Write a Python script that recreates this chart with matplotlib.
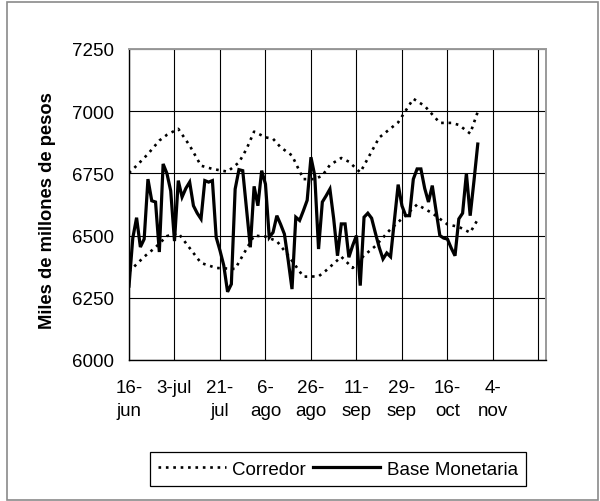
import matplotlib
matplotlib.use("Agg")
import matplotlib.pyplot as plt
from matplotlib.patches import Rectangle
import numpy as np

plt.rcParams['font.family'] = ['Liberation Sans', 'DejaVu Sans']

# Category tick labels (every 12 business days)
tick_labels = ['16-\njun', '3-jul', '21-\njul', '6-\nago', '26-\nago',
               '11-\nsep', '29-\nsep', '16-\noct', '4-\nnov', '']

# Base Monetaria (miles de millones de pesos), one value per business day
base_monetaria = [
    6297, 6490, 6572, 6454, 6486, 6727, 6640, 6635, 6434, 6788,
    6750, 6680, 6478, 6721, 6655, 6690, 6715, 6620, 6590, 6567,
    6721, 6715, 6721, 6493, 6440, 6380, 6274, 6305, 6687, 6765,
    6761, 6607, 6453, 6698, 6620, 6761, 6707, 6493, 6513, 6580,
    6545, 6506, 6400, 6285, 6574, 6561, 6600, 6642, 6815, 6741,
    6446, 6635, 6660, 6687, 6567, 6419, 6547, 6547, 6413, 6460,
    6500, 6299, 6574, 6590, 6570, 6510, 6453, 6406, 6430, 6415,
    6560, 6705, 6620, 6580, 6580, 6727, 6768, 6768, 6690, 6635,
    6701, 6600, 6500, 6490, 6486, 6450, 6419, 6567, 6590, 6750,
    6580, 6720, 6868]

# Corredor: upper bound (category index, value)
corr_sup_idx = [0, 2, 5, 8, 10, 13, 16, 19, 22, 26, 29, 31, 33, 36, 38, 40,
                43, 46, 49, 51, 53, 56, 58, 61, 66, 71, 75, 78, 82, 85, 87,
                90, 92]
corr_sup_val = [6752, 6781, 6828, 6882, 6905, 6929, 6862, 6781, 6768, 6757,
                6794, 6848, 6918, 6895, 6889, 6855, 6822, 6727, 6727, 6741,
                6784, 6812, 6797, 6754, 6894, 6955, 7050, 7021, 6953, 6953,
                6945, 6910, 6998]

# Corredor: lower bound (category index, value)
corr_inf_idx = [0, 2, 4, 7, 10, 13, 19, 23, 28, 30, 33, 36, 39, 42, 46, 50,
                52, 56, 59, 62, 65, 69, 73, 76, 80, 84, 87, 90, 92]
corr_inf_val = [6355, 6385, 6415, 6453, 6498, 6510, 6390, 6370, 6366, 6420,
                6500, 6496, 6478, 6420, 6335, 6336, 6360, 6415, 6370, 6420,
                6458, 6526, 6582, 6625, 6590, 6545, 6535, 6512, 6565]

W, H = 600, 502
fig = plt.figure(figsize=(W / 100, H / 100), dpi=100)
ax = fig.add_axes([129 / W, 1 - 361 / H, (546 - 129) / W, (361 - 50) / H])

fs = 13.5
x_bm = np.arange(len(base_monetaria))

ax.plot(corr_sup_idx, corr_sup_val, color='black', lw=1.9,
        linestyle=(0, (1, 1.8)), label='Corredor', zorder=3)
ax.plot(corr_inf_idx, corr_inf_val, color='black', lw=1.9,
        linestyle=(0, (1, 1.8)), zorder=3)
ax.plot(x_bm, base_monetaria, color='black', lw=2.3, solid_joinstyle='miter',
        label='Base Monetaria', zorder=4)

ax.set_xlim(0, 110)
ax.set_ylim(6000, 7250)
ax.set_yticks(np.arange(6000, 7251, 250))
ax.set_xticks(np.arange(0, 109, 12))
ax.set_xticklabels(tick_labels, linespacing=1.45)
ax.tick_params(axis='both', length=0, labelsize=fs)
ax.tick_params(axis='y', pad=11)
ax.tick_params(axis='x', pad=14)
ax.grid(True, color='black', lw=0.8, zorder=1)
ax.set_axisbelow(True)

for s in ['left', 'bottom']:
    ax.spines[s].set_color('black')
    ax.spines[s].set_linewidth(1.0)
for s in ['top', 'right']:
    ax.spines[s].set_color('#9a9a9a')
    ax.spines[s].set_linewidth(1.4)

fig.text(48 / W, 1 - 211 / H, 'Miles de millones de pesos', rotation=90,
         ha='center', va='center', fontsize=13.2, fontweight='bold')

leg = fig.legend(loc='center', bbox_to_anchor=(338 / W, 1 - 470 / H),
                 ncol=2, fontsize=fs, frameon=True, fancybox=False,
                 edgecolor='black', framealpha=1, handlelength=3.6,
                 handletextpad=0.35, columnspacing=0.35, borderpad=0.45)
leg.get_frame().set_linewidth(0.9)

fig.add_artist(Rectangle((7 / W, 1 / H), (598 - 7) / W, (499 - 1) / H,
                         transform=fig.transFigure, fill=False,
                         edgecolor='#8a8a8a', lw=1.2))

fig.savefig('out.png', dpi=100)
